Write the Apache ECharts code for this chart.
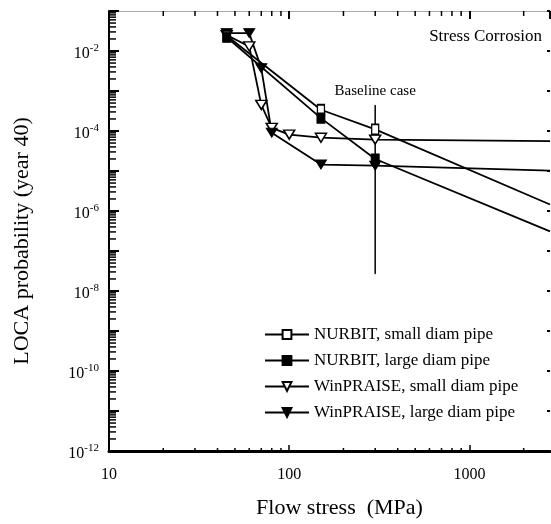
<!DOCTYPE html>
<html>
<head>
<meta charset="utf-8">
<script src="https://cdn.jsdelivr.net/npm/echarts@6/dist/echarts.min.js"></script>
<style>
    body { margin: 0; background: #fff; }
    #chart { width: 551px; height: 524px; }
</style>
</head>
<body>
<div id="chart"></div>
<script>
// flow stress (MPa) vs LOCA probability
// (last point of each curve sits on the clipped right edge)
const nurbitSmallX = [45, 150, 300, 2800];
const nurbitSmallY = [2.4e-2, 3.4e-4, 1.1e-4, 1.45e-6];
const nurbitLargeX = [45, 150, 300, 2800];
const nurbitLargeY = [2.2e-2, 2.1e-4, 2.0e-5, 3.1e-7];
const winSmallX = [45, 60, 70, 80, 100, 150, 300, 2800];
const winSmallY = [2.5e-2, 1.3e-2, 4.5e-4, 1.2e-4, 8.1e-5, 6.8e-5, 6.1e-5, 5.6e-5];
const winLargeX = [45, 60, 70, 80, 150, 300, 2800];
const winLargeY = [2.8e-2, 2.8e-2, 3.7e-3, 9.1e-5, 1.45e-5, 1.36e-5, 1.02e-5];
// baseline case range at 300 MPa
const baselineX = [300, 300];
const baselineY = [4.4e-4, 2.7e-8];

const seriesNames = ['NURBIT, small diam pipe', 'NURBIT, large diam pipe', 'WinPRAISE, small diam pipe', 'WinPRAISE, large diam pipe'];

// minor ticks of the log axes
const xMinorTicks = [20, 30, 40, 50, 60, 70, 80, 90, 200, 300, 400, 500, 600, 700, 800, 900, 2000];
const yDecades = [-12, -11, -10, -9, -8, -7, -6, -5, -4, -3, -2];
const minorSteps = [2, 3, 4, 5, 6, 7, 8, 9];
const yMinorTicks = [];
yDecades.forEach(d => minorSteps.forEach(m => yMinorTicks.push(m * Math.pow(10, d))));

const font = '"Liberation Serif", "Times New Roman", serif';
// the edge point has no marker (it is cut off in the figure)
const pair = (xs, ys) => xs.map((x, i) => i === xs.length - 1 ? { value: [x, ys[i]], symbol: 'none' } : [x, ys[i]]);

const tickSeries = (data, dx, dy, w) => ({
    type: 'custom',
    silent: true,
    clip: false,
    z: 5,
    data: data,
    renderItem: function (params, api) {
        const p = api.coord([api.value(0), api.value(1)]);
        return {
            type: 'line',
            shape: { x1: p[0], y1: p[1], x2: p[0] + dx, y2: p[1] + dy },
            style: { stroke: '#000', lineWidth: w }
        };
    }
});

const isDecade = v => Math.abs(Math.log10(v) - Math.round(Math.log10(v))) < 1e-6;

const lineStyle = { color: '#000', width: 1.8 };

let mychart = echarts.init(document.getElementById('chart'));
let option = {
    animation: false,
    grid: { left: 109, right: 1, top: 11, bottom: 66 },
    legend: {
        data: seriesNames,
        orient: 'vertical',
        left: 264,
        top: 326,
        padding: 0,
        itemWidth: 44,
        itemHeight: 11,
        itemGap: 9,
        textStyle: { fontFamily: font, fontSize: 17, color: '#000' }
    },
    xAxis: [
        {
            type: 'log',
            logBase: 10,
            min: 10,
            max: 2800,
            interval: 1,
            name: 'Flow stress  (MPa)',
            nameLocation: 'middle',
            nameGap: 46,
            nameTextStyle: { fontFamily: font, fontSize: 22, color: '#000', padding: [0, 0, 0, 20] },
            axisLine: { lineStyle: { color: '#000', width: 3 } },
            axisTick: { inside: true, length: 6, lineStyle: { color: '#000', width: 1.5 } },
            axisLabel: {
                fontFamily: font, fontSize: 16, color: '#000', margin: 16,
                showMaxLabel: false,
                formatter: v => isDecade(v) ? String(Math.round(v)) : ''
            },
            splitLine: { show: false }
        },
        {
            type: 'log',
            logBase: 10,
            min: 10,
            max: 2800,
            interval: 1,
            position: 'top',
            axisLine: { lineStyle: { color: '#aaa', width: 1 } },
            axisTick: { inside: true, length: 8, lineStyle: { color: '#000', width: 2 } },
            axisLabel: { show: false },
            splitLine: { show: false }
        }
    ],
    yAxis: [
        {
            type: 'log',
            logBase: 10,
            min: 1e-12,
            max: 1e-1,
            interval: 1,
            name: 'LOCA probability (year 40)',
            nameLocation: 'middle',
            nameGap: 76,
            nameTextStyle: { fontFamily: font, fontSize: 22, color: '#000', padding: [0, 20, 0, 0] },
            axisLine: { lineStyle: { color: '#000', width: 2 } },
            axisTick: { inside: true, length: 10, lineStyle: { color: '#000', width: 2 } },
            axisLabel: {
                margin: 10,
                formatter: function (v) {
                    const e = Math.round(Math.log10(v));
                    if (e % 2 !== 0 || e > -2) return '';
                    return '{b|10}{s|' + e + '}';
                },
                rich: {
                    b: { fontFamily: font, fontSize: 16, color: '#000', padding: [6, 0, 0, 0] },
                    s: { fontFamily: font, fontSize: 11, color: '#000', padding: [0, 0, 6, 0] }
                }
            },
            splitLine: { show: false }
        },
        {
            type: 'log',
            logBase: 10,
            min: 1e-12,
            max: 1e-1,
            interval: 1,
            position: 'right',
            axisLine: { show: false },
            axisTick: { inside: true, length: 3, lineStyle: { color: '#000', width: 2 } },
            axisLabel: { show: false },
            splitLine: { show: false }
        }
    ],
    graphic: [
        {
            type: 'text',
            right: 9,
            top: 28,
            style: { text: 'Stress Corrosion', font: '17px ' + font, fill: '#000' }
        }
    ],
    series: [
        {
            name: 'baseline',
            type: 'line',
            data: [
                {
                    value: [baselineX[0], baselineY[0]],
                    label: {
                        show: true, position: 'top', distance: 6,
                        formatter: 'Baseline case',
                        fontFamily: font, fontSize: 15, color: '#000'
                    }
                },
                [baselineX[1], baselineY[1]]
            ],
            symbol: 'circle',
            symbolSize: 1,
            itemStyle: { color: '#000' },
            lineStyle: { color: '#000', width: 1.5 },
            z: 1
        },
        {
            name: seriesNames[0],
            type: 'line',
            data: pair(nurbitSmallX, nurbitSmallY),
            symbol: 'rect',
            symbolSize: [7, 10],
            showAllSymbol: true,
            itemStyle: { color: '#fff', borderColor: '#000', borderWidth: 1.5 },
            lineStyle: lineStyle,
            z: 3
        },
        {
            name: seriesNames[1],
            type: 'line',
            data: pair(nurbitLargeX, nurbitLargeY),
            symbol: 'rect',
            symbolSize: [8, 10],
            showAllSymbol: true,
            itemStyle: { color: '#000', borderColor: '#000', borderWidth: 1 },
            lineStyle: lineStyle,
            z: 3
        },
        {
            name: seriesNames[2],
            type: 'line',
            data: pair(winSmallX, winSmallY),
            symbol: 'triangle',
            symbolRotate: 180,
            symbolSize: [11, 9],
            showAllSymbol: true,
            itemStyle: { color: '#fff', borderColor: '#000', borderWidth: 1.5 },
            lineStyle: lineStyle,
            z: 2
        },
        {
            name: seriesNames[3],
            type: 'line',
            data: pair(winLargeX, winLargeY),
            symbol: 'triangle',
            symbolRotate: 180,
            symbolSize: [11, 9],
            showAllSymbol: true,
            itemStyle: { color: '#000', borderColor: '#000', borderWidth: 1 },
            lineStyle: lineStyle,
            z: 2
        },
        tickSeries(yMinorTicks.map(v => [10, v]), 7, 0, 1.5),
        tickSeries(xMinorTicks.map(v => [v, 1e-12]), 0, -3, 1.5),
        tickSeries(xMinorTicks.map(v => [v, 1e-1]), 0, 5, 1.5)
    ]
};
mychart.setOption(option);
</script>
</body>
</html>
